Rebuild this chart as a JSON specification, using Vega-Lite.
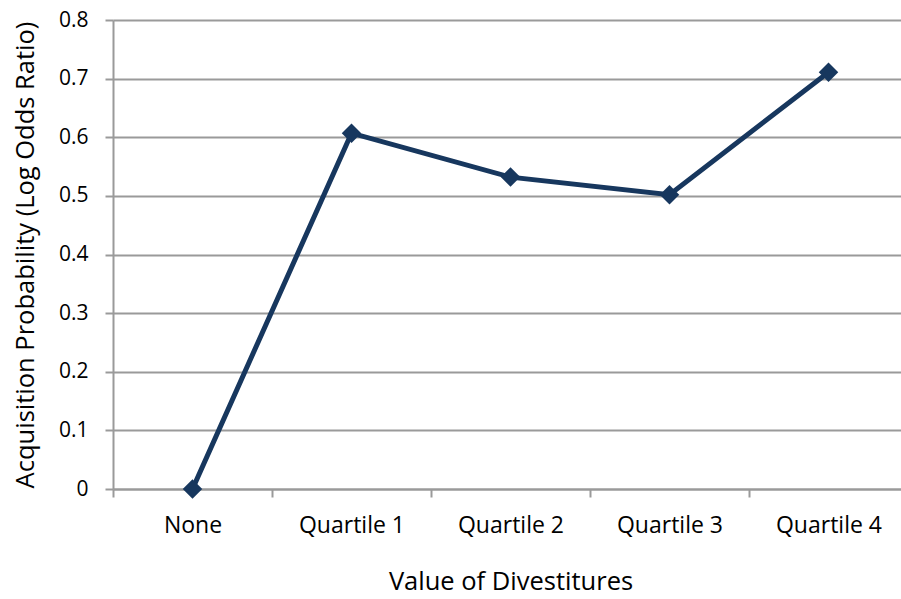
{
  "$schema": "https://vega.github.io/schema/vega-lite/v6.json",
  "autosize": {"type": "none"},
  "width": 788,
  "height": 469,
  "padding": {"left": 113, "top": 20, "right": 0, "bottom": 110},
  "background": "white",
  "config": {"view": {"stroke": null}, "font": "Open Sans"},
  "data": {"values": [
    {"category": "None", "value": 0},
    {"category": "Quartile 1", "value": 0.607},
    {"category": "Quartile 2", "value": 0.532},
    {"category": "Quartile 3", "value": 0.502},
    {"category": "Quartile 4", "value": 0.711}
  ]},
  "mark": {"type": "line", "color": "#17375e", "strokeWidth": 5, "point": {"shape": "diamond", "size": 380, "filled": true, "color": "#17375e", "opacity": 1}},
  "encoding": {
    "x": {
      "field": "category", "type": "nominal", "sort": null,
      "scale": {"type": "band", "range": [0, 795], "paddingInner": 0, "paddingOuter": 0},
      "axis": {
        "title": "Value of Divestitures", "titleFontSize": 25.5, "titleFontWeight": "normal", "titleColor": "#000", "titlePadding": 32,
        "labelFontSize": 23, "labelColor": "#000", "labelAngle": 0, "labelPadding": 17,
        "tickBand": "extent", "tickSize": 8, "tickColor": "#9a9a9a", "tickWidth": 2,
        "domainColor": "#9a9a9a", "domainWidth": 2, "grid": false
      }
    },
    "y": {
      "field": "value", "type": "quantitative",
      "scale": {"domain": [0, 0.8], "nice": false, "zero": true},
      "axis": {
        "title": "Acquisition Probability (Log Odds Ratio)", "titleFontSize": 25.5, "titleFontWeight": "normal", "titleColor": "#000", "titlePadding": 20,
        "values": [0, 0.1, 0.2, 0.3, 0.4, 0.5, 0.6, 0.7, 0.8],
        "format": "~g",
        "labelFontSize": 21, "labelColor": "#000", "labelPadding": 17,
        "tickSize": 8, "tickColor": "#9a9a9a", "tickWidth": 2,
        "domainColor": "#9a9a9a", "domainWidth": 2,
        "grid": true, "gridColor": "#9a9a9a", "gridWidth": 2
      }
    }
  }
}
